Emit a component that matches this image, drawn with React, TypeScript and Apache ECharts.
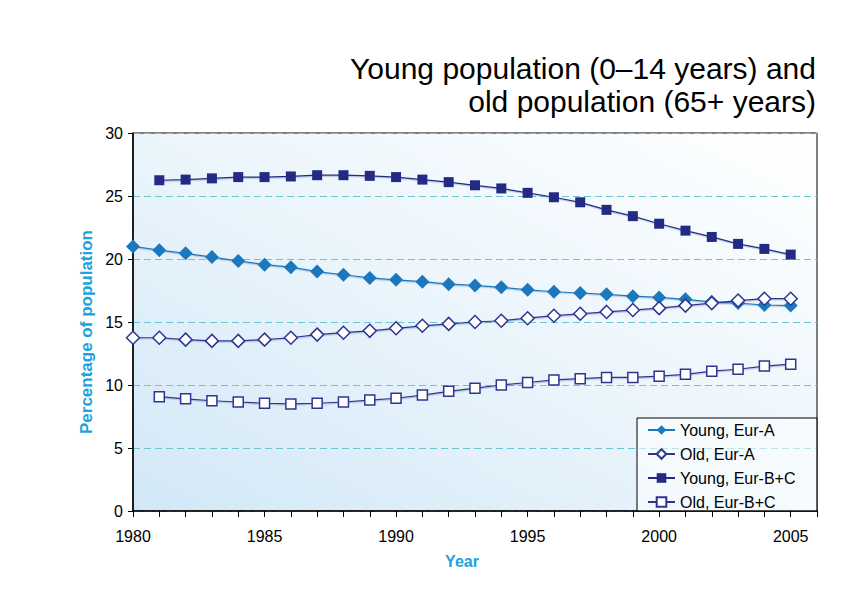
import React, { useEffect, useRef } from "react";
import * as echarts from "echarts";

const years = [1980, 1981, 1982, 1983, 1984, 1985, 1986, 1987, 1988, 1989, 1990, 1991, 1992, 1993, 1994, 1995, 1996, 1997, 1998, 1999, 2000, 2001, 2002, 2003, 2004, 2005];
const youngEurA = [21.0, 20.7, 20.45, 20.15, 19.85, 19.55, 19.35, 19.0, 18.75, 18.5, 18.35, 18.2, 18.0, 17.9, 17.75, 17.55, 17.4, 17.3, 17.2, 17.05, 16.95, 16.8, 16.6, 16.5, 16.35, 16.3];
const oldEurA = [13.75, 13.75, 13.6, 13.5, 13.5, 13.6, 13.75, 14.0, 14.15, 14.3, 14.5, 14.7, 14.85, 15.0, 15.1, 15.3, 15.5, 15.65, 15.8, 15.95, 16.1, 16.3, 16.5, 16.7, 16.85, 16.85];
const youngEurBC = [null, 26.25, 26.3, 26.4, 26.5, 26.5, 26.55, 26.65, 26.65, 26.6, 26.5, 26.3, 26.1, 25.85, 25.6, 25.25, 24.9, 24.5, 23.9, 23.4, 22.8, 22.25, 21.75, 21.2, 20.8, 20.35];
const oldEurBC = [null, 9.07, 8.9, 8.75, 8.65, 8.55, 8.5, 8.55, 8.65, 8.8, 8.95, 9.2, 9.5, 9.75, 10.0, 10.2, 10.4, 10.5, 10.6, 10.6, 10.7, 10.85, 11.1, 11.25, 11.5, 11.65];

const seriesNames = ["Young, Eur-A", "Old, Eur-A", "Young, Eur-B+C", "Old, Eur-B+C"];
const titleLines = ["Young population (0\u201314 years) and", "old population (65+ years)"];
const yAxisTitle = "Percentage of population";
const xAxisTitle = "Year";
const yTicks = { min: 0, max: 30, interval: 5 };
const xRange = { min: 1980, max: 2006 };

const FONT = "'Liberation Sans', Arial, Helvetica, sans-serif";
const BLUE = "#1b78be";
const NAVY = "#222a84";
const CYAN = "#1aa3df";

const pairs = (vals: (number | null)[]) =>
  years.map((y, i) => [y, vals[i]]).filter((p) => p[1] !== null);

export default function App() {
  const ref = useRef<HTMLDivElement>(null);
  useEffect(() => {
    if (!ref.current) return;
    const chart = echarts.init(ref.current, undefined, { renderer: "svg" });
    const shadow = {
      shadowColor: "rgba(70,90,150,0.35)",
      shadowBlur: 0.5,
      shadowOffsetX: 0.5,
      shadowOffsetY: 1.2,
    };
    const mk = (name: string, vals: (number | null)[], symbol: string, size: number, fill: string, stroke: string, lineColor: string) => ({
      name,
      type: "line",
      data: pairs(vals),
      symbol,
      symbolSize: size,
      showAllSymbol: true,
      lineStyle: { color: lineColor, width: 1.2, ...shadow },
      itemStyle: { color: fill, borderColor: stroke, borderWidth: fill === "#ffffff" ? 1.5 : 0 },
      emphasis: { disabled: true },
      z: 3,
    });
    chart.setOption({
      animation: false,
      backgroundColor: "#ffffff",
      textStyle: { fontFamily: FONT },
      graphic: [
        {
          type: "text",
          x: 816,
          y: 52,
          style: {
            text: titleLines.join("\n"),
            font: `30px ${FONT}`,
            fill: "#000",
            align: "right",
            verticalAlign: "top",
            lineHeight: 33,
          },
        },
        {
          type: "text",
          x: 86,
          y: 332,
          rotation: Math.PI / 2,
          style: {
            text: yAxisTitle,
            font: `bold 17px ${FONT}`,
            fill: CYAN,
            align: "center",
            verticalAlign: "middle",
          },
        },
        {
          type: "text",
          x: 462,
          y: 561,
          style: {
            text: xAxisTitle,
            font: `bold 16px ${FONT}`,
            fill: CYAN,
            align: "center",
            verticalAlign: "middle",
          },
        },
        {
          type: "rect",
          shape: { x: 637, y: 418, width: 180, height: 93 },
          style: { fill: "rgba(255,255,255,0.55)", stroke: "#000", lineWidth: 1 },
          z: 4,
        },
      ],
      grid: {
        left: 133,
        right: 47,
        top: 133,
        bottom: 99,
        show: true,
        borderColor: "#000",
        borderWidth: 1,
        backgroundColor: {
          type: "linear",
          x: 0,
          y: 1,
          x2: 1,
          y2: 0,
          colorStops: [
            { offset: 0, color: "#d2e8f7" },
            { offset: 0.55, color: "#edf6fc" },
            { offset: 1, color: "#ffffff" },
          ],
        },
      },
      legend: {
        orient: "vertical",
        left: 647,
        top: 422,
        itemWidth: 27,
        itemHeight: 12,
        itemGap: 8,
        padding: 0,
        data: seriesNames,
        textStyle: { fontSize: 16, color: "#000", fontFamily: FONT },
        z: 6,
      },
      xAxis: {
        type: "value",
        min: xRange.min,
        max: xRange.max,
        interval: 1,
        axisLine: { show: true, lineStyle: { color: "#000", width: 1.5 } },
        axisTick: { show: true, length: 6, lineStyle: { color: "#000", width: 1 } },
        axisLabel: {
          margin: 17,
          fontSize: 16,
          color: "#000",
          fontFamily: FONT,
          formatter: (v: number) => (v % 5 === 0 && v <= 2005 ? String(v) : ""),
        },
        splitLine: { show: false },
      },
      yAxis: {
        type: "value",
        min: yTicks.min,
        max: yTicks.max,
        interval: yTicks.interval,
        axisLine: { show: true, lineStyle: { color: "#000", width: 1.5 } },
        axisTick: { show: true, length: 5, lineStyle: { color: "#000", width: 1 } },
        axisLabel: { margin: 10, fontSize: 16, color: "#000", fontFamily: FONT },
        splitLine: { show: true, lineStyle: { color: "#6cc6cf", width: 1, type: [7, 4] } },
      },
      series: [
        mk(seriesNames[0], youngEurA, "diamond", 14, BLUE, BLUE, BLUE),
        mk(seriesNames[1], oldEurA, "diamond", 13, "#ffffff", "#2e3591", "#2e3591"),
        mk(seriesNames[2], youngEurBC, "rect", 10, NAVY, NAVY, NAVY),
        mk(seriesNames[3], oldEurBC, "rect", 10, "#ffffff", "#2e3591", "#2e3591"),
      ],
    });
    return () => chart.dispose();
  }, []);
  return <div ref={ref} style={{ width: 864, height: 610, position: "absolute", left: 0, top: 0 }} />;
}
